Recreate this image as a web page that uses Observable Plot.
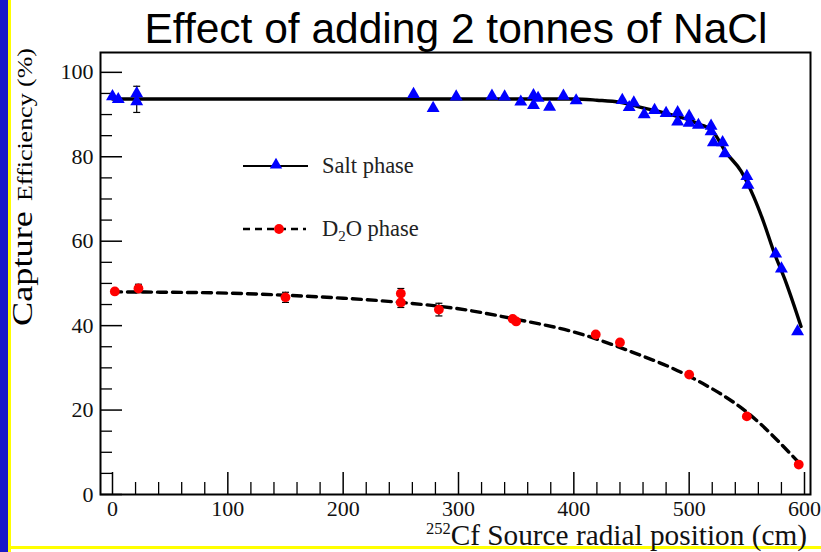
<!DOCTYPE html>
<html>
<head>
<meta charset="utf-8">
<script src="https://cdn.jsdelivr.net/npm/d3@7"></script>
<script src="https://cdn.jsdelivr.net/npm/@observablehq/plot@0.6"></script>
<style>
  html, body { margin: 0; padding: 0; background: #ffffff; }
  #chart svg { display: block; }
</style>
</head>
<body>
<div id="chart"></div>
<script>
// ---- data ----
const title = "Effect of adding 2 tonnes of NaCl";
const seriesNames = ["Salt phase", "D2O phase"];

const saltX = [0, 5, 21, 21, 261, 278, 298, 329, 340, 354, 365, 365, 369, 379, 391, 402,
               442, 448, 452, 461, 470, 480, 490, 490, 500, 500, 508, 519, 519, 521, 529, 531,
               550, 551, 575, 580, 594];
const saltY = [94.3, 93.6, 95.0, 93.1, 94.8, 91.5, 94.2, 94.4, 94.2, 93.0, 94.5, 92.2, 93.9, 91.8, 94.4, 93.3,
               93.4, 91.7, 92.8, 90.0, 91.0, 90.3, 90.5, 88.3, 89.6, 88.0, 87.5, 87.3, 86.0, 83.4, 83.4, 80.8,
               75.4, 73.3, 57.0, 53.5, 38.6];

const d2oX = [2, 22.5, 150, 250, 250, 283, 347, 350, 419, 440, 500, 550, 595];
const d2oY = [48.1, 48.8, 46.7, 47.6, 45.5, 43.8, 41.6, 41.0, 37.9, 36.0, 28.4, 18.5, 7.1];

const saltFitX = [0, 100, 200, 300, 400, 420, 440, 460, 480, 500, 510, 520, 532, 545, 556, 565, 573, 584, 597];
const saltFitY = [93.7, 93.7, 93.7, 93.7, 93.7, 93.4, 92.9, 91.6, 90.3, 88.7, 87.6, 86.2, 81.0, 76.6, 70.5, 64.2, 57.8, 50.2, 39.8];

const d2oFitX = [0, 50, 100, 150, 200, 250, 300, 350, 400, 450, 500, 550, 597];
const d2oFitY = [48.0, 47.9, 47.7, 47.2, 46.5, 45.5, 44.0, 41.5, 38.5, 33.8, 28.0, 19.5, 7.0];

const errX  = [21, 22.5, 150, 250, 283];
const errLo = [90.5, 47.8, 45.5, 44.3, 42.3];
const errHi = [96.7, 49.8, 47.9, 48.8, 45.3];

const xTicks = [0, 100, 200, 300, 400, 500, 600];
const yTicks = [0, 20, 40, 60, 80, 100];
const xMinor = d3.range(0, 601, 20).filter(v => v % 100 !== 0);
const yMinor = d3.range(0, 101, 5).filter(v => v % 20 !== 0);

// ---- tables for Plot ----
const salt = saltX.map((x, i) => ({x, y: saltY[i]}));
const d2o = d2oX.map((x, i) => ({x, y: d2oY[i]}));
const saltFit = saltFitX.map((x, i) => ({x, y: saltFitY[i]}));
const d2oFit = d2oFitX.map((x, i) => ({x, y: d2oFitY[i]}));
const errs = errX.map((x, i) => ({x, lo: errLo[i], hi: errHi[i]}));
const caps = errs.flatMap(d => [{x: d.x, y: d.lo}, {x: d.x, y: d.hi}]);

const W = 821, H = 552, mL = 100, mR = 11, mT = 52, mB = 58;
const pw = W - mL - mR, ph = H - mT - mB;

const capSymbol = {
  draw(ctx, size) { const r = Math.sqrt(size / Math.PI); ctx.moveTo(-r, 0); ctx.lineTo(r, 0); }
};

const chart = Plot.plot({
  width: W, height: H,
  marginLeft: mL, marginRight: mR, marginTop: mT, marginBottom: mB,
  x: {domain: [-10.4, 605.2]},
  y: {domain: [0, 104.7]},
  style: {fontFamily: "'Liberation Serif', 'Times New Roman', serif", background: "transparent", color: "black"},
  marks: [
    Plot.ruleY(yMinor, {stroke: "black", strokeWidth: 1.3, insetRight: pw - 12}),
    Plot.ruleY(yTicks, {stroke: "black", strokeWidth: 1.5, insetRight: pw - 22}),
    Plot.ruleX(xMinor, {stroke: "black", strokeWidth: 1.3, insetTop: ph - 12}),
    Plot.ruleX(xTicks, {stroke: "black", strokeWidth: 1.5, insetTop: ph - 22}),
    Plot.axisX({ticks: xTicks, tickSize: 0, tickPadding: 6, fontSize: 22, label: null, fill: "#111"}),
    Plot.axisY({ticks: yTicks, tickSize: 0, tickPadding: 7, fontSize: 22, label: null, fill: "#111"}),
    Plot.frame({stroke: "black", strokeWidth: 2}),
    Plot.line(saltFit, {x: "x", y: "y", stroke: "black", strokeWidth: 3.4, curve: "monotone-x"}),
    Plot.line(d2oFit, {x: "x", y: "y", stroke: "black", strokeWidth: 3.4, strokeDasharray: "9,6", curve: "monotone-x"}),
    Plot.ruleX(errs, {x: "x", y1: "lo", y2: "hi", stroke: "black", strokeWidth: 1.2}),
    Plot.dot(caps, {x: "x", y: "y", symbol: capSymbol, r: 3.5, stroke: "black", strokeWidth: 1.2, fill: "none"}),
    Plot.dot(salt, {x: "x", y: "y", symbol: "triangle", r: 4.8, fill: "#0000ff", stroke: "none"}),
    Plot.dot(d2o, {x: "x", y: "y", symbol: "circle", r: 4.9, fill: "#ff0000", stroke: "none"})
  ]
});

const svg = d3.select(chart);
const serif = "'Liberation Serif', 'Times New Roman', serif";

// slide decoration: blue bar + yellow border lines
svg.insert("rect", ":first-child").attr("x", 0).attr("y", 0).attr("width", 8).attr("height", H).attr("fill", "#1818c8");
svg.insert("rect", ":first-child").attr("x", 8).attr("y", 0).attr("width", 3).attr("height", H).attr("fill", "#ffff00");
svg.insert("rect", ":first-child").attr("x", 8).attr("y", 546).attr("width", W - 8).attr("height", 3).attr("fill", "#ffff00");

// title
svg.append("text")
  .attr("x", 456).attr("y", 43)
  .attr("text-anchor", "middle")
  .attr("font-family", "'Liberation Sans', Arial, sans-serif")
  .attr("font-size", 42.5)
  .attr("fill", "#000")
  .text(title);

// y axis label (two parts, different sizes)
svg.append("text")
  .attr("transform", "translate(32,326) rotate(-90)")
  .attr("text-anchor", "start")
  .attr("font-family", serif)
  .attr("font-size", 29)
  .attr("textLength", 115)
  .attr("lengthAdjust", "spacingAndGlyphs")
  .attr("fill", "#000")
  .text("Capture");
svg.append("text")
  .attr("transform", "translate(32,201) rotate(-90)")
  .attr("text-anchor", "start")
  .attr("font-family", serif)
  .attr("font-size", 21)
  .attr("textLength", 153)
  .attr("lengthAdjust", "spacingAndGlyphs")
  .attr("fill", "#000")
  .text("Efficiency (%)");

// x axis label
const xl = svg.append("text")
  .attr("x", 807).attr("y", 545)
  .attr("text-anchor", "end")
  .attr("font-family", serif)
  .attr("font-size", 29.3)
  .attr("fill", "#111");
xl.append("tspan").attr("font-size", 16.5).attr("dy", -11).text("252");
xl.append("tspan").attr("dy", 11).text("Cf Source radial position (cm)");

// legend
const lg = svg.append("g").attr("font-family", serif).attr("font-size", 22.5).attr("fill", "#222").attr("text-anchor", "start");
lg.append("line").attr("x1", 243).attr("x2", 308).attr("y1", 166).attr("y2", 166).attr("stroke", "black").attr("stroke-width", 2);
lg.append("path").attr("d", d3.symbol(d3.symbolTriangle, Math.PI * 4.6 * 4.6)()).attr("transform", "translate(276,165)").attr("fill", "#0000ff");
lg.append("text").attr("x", 322).attr("y", 173).text(seriesNames[0]);
lg.append("line").attr("x1", 243).attr("x2", 306).attr("y1", 229).attr("y2", 229).attr("stroke", "black").attr("stroke-width", 2.5).attr("stroke-dasharray", "7,5");
lg.append("circle").attr("cx", 279).attr("cy", 229).attr("r", 4.9).attr("fill", "#ff0000");
const t2 = lg.append("text").attr("x", 322).attr("y", 236);
t2.append("tspan").text("D");
t2.append("tspan").attr("font-size", 15).attr("dy", 5).text("2");
t2.append("tspan").attr("dy", -5).text("O phase");

document.getElementById("chart").appendChild(chart);
</script>
</body>
</html>
